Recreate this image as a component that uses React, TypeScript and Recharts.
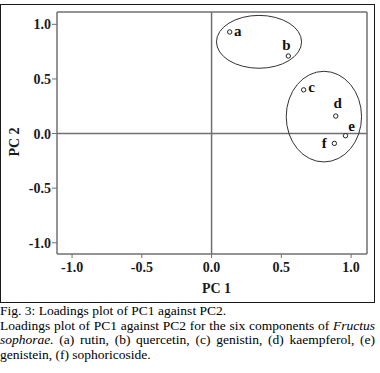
import { ScatterChart, Scatter, XAxis, YAxis, ReferenceLine, LabelList } from "recharts";

const compoundLabels = ["a", "b", "c", "d", "e", "f"];
const pc1Values = [0.13, 0.55, 0.66, 0.89, 0.96, 0.88];
const pc2Values = [0.93, 0.71, 0.4, 0.16, -0.02, -0.09];

const groupCenterPc1 = [0.34, 0.805];
const groupCenterPc2 = [0.84, 0.155];
const groupRadiusPc1 = [0.305, 0.27];
const groupRadiusPc2 = [0.242, 0.415];

const axisTicks = [-1, -0.5, 0, 0.5, 1];

const X_DOMAIN = [-1.108, 1.114];
const Y_DOMAIN = [-1.103, 1.113];

// layout
const CHART_W = 380;
const CHART_H = 300;
const MARGIN = { top: 12, right: 13, bottom: 0, left: 0 };
const Y_AXIS_W = 57;
const X_AXIS_H = 46;
const PLOT_W = CHART_W - MARGIN.left - MARGIN.right - Y_AXIS_W;
const PLOT_H = CHART_H - MARGIN.top - MARGIN.bottom - X_AXIS_H;
const PX_PER_X = PLOT_W / (X_DOMAIN[1] - X_DOMAIN[0]);
const PX_PER_Y = PLOT_H / (Y_DOMAIN[1] - Y_DOMAIN[0]);

// label placement next to each point (px)
const labelOffsets: Record<string, [number, number]> = {
  a: [8, -1],
  b: [-2, -11],
  c: [8, -3],
  d: [2, -13],
  e: [6, -9.5],
  f: [-10, 0],
};

const points = compoundLabels.map((name, i) => ({ name, x: pc1Values[i], y: pc2Values[i] }));
const groups = groupCenterPc1.map((x, i) => ({
  x,
  y: groupCenterPc2[i],
  rx: groupRadiusPc1[i],
  ry: groupRadiusPc2[i],
}));

const serif = "'Liberation Serif', 'Times New Roman', serif";
const axisGray = "#707070";
const tickStyle = { fontSize: 14, fontWeight: 700, fill: "#1a1a1a", fontFamily: serif };

const EllipseShape = (props: any) => {
  const { cx, cy, payload } = props;
  return (
    <ellipse
      cx={cx}
      cy={cy}
      rx={payload.rx * PX_PER_X}
      ry={payload.ry * PX_PER_Y}
      fill="none"
      stroke="#333"
      strokeWidth={1}
    />
  );
};

const PointShape = (props: any) => (
  <circle cx={props.cx} cy={props.cy} r={2.2} fill="#fff" stroke="#222" strokeWidth={1} />
);

const PointLabel = (props: any) => {
  const { x, y, width, height, value } = props;
  const [dx, dy] = labelOffsets[value] || [0, 0];
  const cx = x + (width || 0) / 2;
  const cy = y + (height || 0) / 2;
  return (
    <text
      x={cx + dx}
      y={cy + dy}
      textAnchor="middle"
      dominantBaseline="central"
      fontSize={15}
      fontWeight={700}
      fontFamily={serif}
      fill="#111"
    >
      {value}
    </text>
  );
};

const justified = {
  textAlign: "justify" as const,
  textAlignLast: "justify" as const,
  whiteSpace: "nowrap" as const,
};

export default function App() {
  return (
    <div
      style={{
        position: "absolute",
        left: 0,
        top: 0,
        width: 380,
        height: 373,
        background: "#fff",
        overflow: "hidden",
      }}
    >
      {/* figure frame */}
      <div
        style={{
          position: "absolute",
          left: 0,
          top: 4,
          width: 375,
          height: 299,
          boxSizing: "border-box",
          border: "1.4px solid #1a1a1a",
        }}
      />
      <div style={{ position: "absolute", left: 0, top: 0 }}>
        <ScatterChart width={CHART_W} height={CHART_H} margin={MARGIN}>
          <XAxis
            type="number"
            dataKey="x"
            domain={X_DOMAIN}
            ticks={axisTicks}
            allowDataOverflow
            tickFormatter={(v: number) => v.toFixed(1)}
            tick={tickStyle}
            tickSize={4}
            tickMargin={4}
            height={X_AXIS_H}
            axisLine={{ stroke: axisGray, strokeWidth: 1.5 }}
            tickLine={{ stroke: axisGray, strokeWidth: 1 }}
            label={{
              content: (p: any) => {
                const vb = p.viewBox;
                return (
                  <text
                    x={vb.x + vb.width / 2 + 4.5}
                    y={vb.y + 39}
                    textAnchor="middle"
                    fontSize={14}
                    fontWeight={700}
                    fontFamily={serif}
                    fill="#1a1a1a"
                  >
                    PC 1
                  </text>
                );
              },
            }}
          />
          <YAxis
            type="number"
            dataKey="y"
            domain={Y_DOMAIN}
            ticks={axisTicks}
            allowDataOverflow
            tickFormatter={(v: number) => v.toFixed(1)}
            tick={tickStyle}
            tickSize={5}
            tickMargin={1}
            width={Y_AXIS_W}
            axisLine={{ stroke: axisGray, strokeWidth: 1.5 }}
            tickLine={{ stroke: axisGray, strokeWidth: 1 }}
            label={{
              content: (p: any) => {
                const vb = p.viewBox;
                const lx = 14;
                const ly = vb.y + vb.height / 2 + 9;
                return (
                  <text
                    x={lx}
                    y={ly}
                    textAnchor="middle"
                    dominantBaseline="central"
                    transform={`rotate(-90 ${lx} ${ly})`}
                    fontSize={14}
                    fontWeight={700}
                    fontFamily={serif}
                    fill="#1a1a1a"
                  >
                    PC 2
                  </text>
                );
              },
            }}
          />
          <ReferenceLine x={0} stroke={axisGray} strokeWidth={1.5} />
          <ReferenceLine y={0} stroke={axisGray} strokeWidth={1.5} />
          <ReferenceLine x={X_DOMAIN[1]} stroke={axisGray} strokeWidth={1.5} />
          <ReferenceLine y={Y_DOMAIN[1]} stroke={axisGray} strokeWidth={1.5} />
          <Scatter data={groups} shape={EllipseShape} isAnimationActive={false} />
          <Scatter data={points} shape={PointShape} isAnimationActive={false}>
            <LabelList dataKey="name" content={PointLabel} />
          </Scatter>
        </ScatterChart>
      </div>
      {/* caption */}
      <div
        style={{
          position: "absolute",
          left: 0,
          top: 304,
          width: 375,
          fontFamily: serif,
          fontSize: 13.5,
          lineHeight: "14.6px",
          color: "#000",
        }}
      >
        <div style={{ whiteSpace: "nowrap" }}>Fig. 3: Loadings plot of PC1 against PC2.</div>
        <div style={justified}>
          Loadings plot of PC1 against PC2 for the six components of <i>Fructus</i>
        </div>
        <div style={justified}>
          <i>sophorae.</i> (a) rutin, (b) quercetin, (c) genistin, (d) kaempferol, (e)
        </div>
        <div style={{ whiteSpace: "nowrap" }}>genistein, (f) sophoricoside.</div>
      </div>
    </div>
  );
}
